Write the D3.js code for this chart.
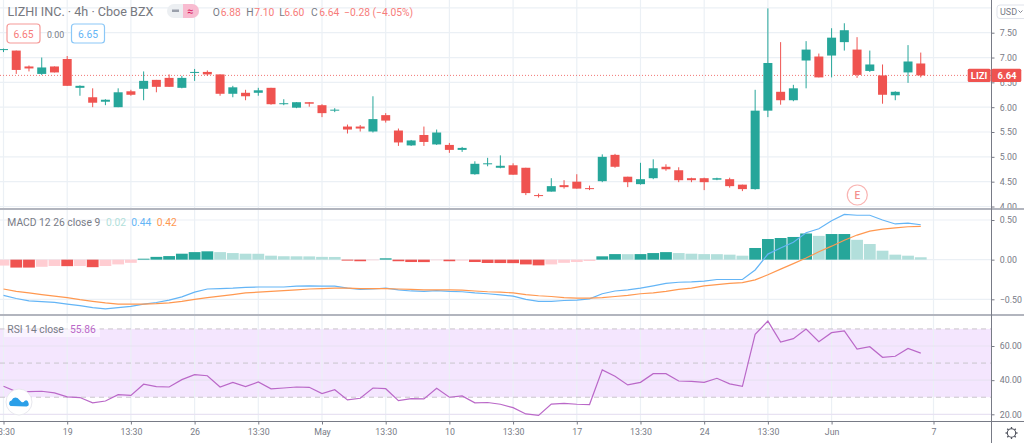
<!DOCTYPE html>
<html>
<head>
<meta charset="utf-8">
<script src="https://cdn.jsdelivr.net/npm/d3@7"></script>
<style>
  html, body { margin: 0; padding: 0; background: #fff; overflow: hidden; }
  text { font-family: Roboto, "Open Sans", sans-serif; }
  .axis path { display: none; }
  .axis line { stroke: #787b86; }
  .axis text { fill: #787b86; font-size: 8.8px; font-family: Roboto, sans-serif; }
</style>
</head>
<body>
<div id="chart"></div>
<script>
// one entry per 4h bar, index is the bar number
const opens = [7.16,7.14,6.82,6.67,6.82,6.97,6.39,6.20,6.11,6.00,6.32,6.37,6.55,6.59,6.39,6.69,6.71,6.66,6.27,6.29,6.29,6.39,6.06,5.99,6.10,6.04,5.93,
  5.61,5.61,5.51,5.84,5.53,5.23,5.44,5.25,5.24,5.14,4.65,4.85,4.78,4.83,4.78,4.23,4.30,4.43,4.50,4.37,4.51,5.04,4.60,4.45,4.57,4.80,4.73,
  4.57,4.57,4.54,4.55,4.44,4.35,5.93,6.31,6.14,6.94,7.02,7.04,7.31,7.16,6.73,6.64,6.24,6.70,6.88];
const highs = [7.18,7.14,6.84,7.00,6.82,7.03,6.44,6.38,6.16,6.38,6.35,6.72,6.55,6.66,6.63,6.77,6.74,6.66,6.43,6.35,6.39,6.39,6.16,6.10,6.10,6.06,5.98,
  5.65,5.64,6.22,5.88,5.57,5.34,5.61,5.55,5.28,5.20,4.91,4.98,5.03,4.87,4.78,4.26,4.57,4.53,4.65,4.42,5.05,5.06,4.60,4.88,4.95,4.85,4.79,
  4.58,4.58,4.58,4.58,4.44,6.35,7.99,7.31,6.45,7.33,7.08,7.59,7.69,7.41,7.14,6.86,6.32,7.25,7.10];
const lows = [7.11,6.67,6.72,6.65,6.70,6.43,6.23,6.00,6.04,6.00,6.23,6.14,6.30,6.41,6.38,6.53,6.63,6.23,6.20,6.14,6.23,6.05,6.04,5.98,6.01,5.80,5.90,
  5.47,5.51,5.49,5.69,5.22,5.22,5.22,5.24,5.08,5.10,4.64,4.81,4.77,4.64,4.23,4.18,4.30,4.36,4.36,4.33,4.49,4.78,4.39,4.44,4.55,4.72,4.49,
  4.49,4.33,4.53,4.38,4.31,4.34,5.80,6.05,6.12,6.38,6.60,6.60,7.14,6.59,6.71,6.07,6.14,6.49,6.60];
const closes = [7.17,6.75,6.78,6.80,6.70,6.43,6.43,6.09,6.15,6.30,6.25,6.53,6.41,6.41,6.59,6.71,6.66,6.27,6.40,6.22,6.34,6.06,6.08,6.10,6.07,5.88,5.95,
  5.55,5.57,5.76,5.73,5.29,5.33,5.30,5.49,5.14,5.18,4.86,4.87,4.82,4.64,4.27,4.21,4.41,4.39,4.36,4.35,5.00,4.80,4.49,4.55,4.77,4.75,4.53,
  4.53,4.49,4.57,4.41,4.35,5.93,6.89,6.14,6.38,7.16,6.60,7.40,7.55,6.65,6.86,6.25,6.31,6.92,6.64];

const macdHist = [-0.075,-0.10,-0.10,-0.09,-0.08,-0.082,-0.08,-0.095,-0.08,-0.06,-0.04,0.012,0.035,0.045,0.075,0.095,0.105,0.095,0.083,0.075,0.074,0.05,0.043,0.042,0.041,0.035,0.034,
  -0.012,-0.02,-0.008,0.017,-0.02,-0.03,-0.031,-0.008,-0.02,-0.012,-0.03,-0.042,-0.043,-0.044,-0.06,-0.072,-0.06,-0.04,-0.03,-0.017,0.042,0.07,0.069,0.07,0.083,0.095,0.083,
  0.075,0.07,0.069,0.063,0.05,0.147,0.26,0.273,0.286,0.33,0.30,0.323,0.323,0.25,0.197,0.113,0.063,0.05,0.03];
const macdLine = [-0.45,-0.49,-0.52,-0.53,-0.54,-0.56,-0.58,-0.605,-0.62,-0.605,-0.59,-0.56,-0.54,-0.51,-0.47,-0.41,-0.37,-0.365,-0.36,-0.35,-0.345,-0.345,-0.345,-0.335,-0.33,-0.335,-0.335,
  -0.36,-0.375,-0.37,-0.36,-0.38,-0.395,-0.40,-0.39,-0.40,-0.405,-0.42,-0.43,-0.445,-0.46,-0.50,-0.525,-0.525,-0.515,-0.51,-0.495,-0.43,-0.395,-0.38,-0.36,-0.33,-0.30,-0.285,
  -0.28,-0.27,-0.25,-0.25,-0.25,-0.13,0.07,0.147,0.22,0.34,0.39,0.49,0.57,0.56,0.56,0.50,0.45,0.46,0.44];
const signalLine = [-0.37,-0.40,-0.42,-0.44,-0.46,-0.48,-0.505,-0.525,-0.545,-0.56,-0.56,-0.56,-0.555,-0.545,-0.525,-0.50,-0.48,-0.46,-0.44,-0.42,-0.41,-0.40,-0.39,-0.38,-0.37,-0.365,-0.36,
  -0.36,-0.365,-0.365,-0.365,-0.37,-0.375,-0.38,-0.38,-0.38,-0.385,-0.395,-0.405,-0.41,-0.42,-0.44,-0.455,-0.465,-0.48,-0.485,-0.485,-0.48,-0.465,-0.45,-0.43,-0.42,-0.40,-0.375,
  -0.36,-0.33,-0.315,-0.30,-0.29,-0.255,-0.19,-0.12,-0.05,0.02,0.10,0.17,0.245,0.31,0.36,0.385,0.40,0.415,0.42];
const rsiLine = [36.4,33.3,33.3,33.5,32.5,30.2,29.8,26.7,27.8,31.5,31.1,37.6,36.2,36,40.3,43.2,42.6,36,38.7,36.2,38.9,34.9,35.4,36,35.8,32.1,34.4,
  28.4,29.4,35.4,35,28,29.2,29,35.2,30,30.8,26.7,26.9,25.9,23.9,20.2,19.4,26,26.4,25.9,25.7,46,42.3,37.2,38.7,43.8,43.8,39.5,
  39.3,38.7,41.1,37.8,36.4,66.8,74.6,62.3,64.3,69.9,62.5,67.8,68.8,58.2,59.6,53.4,54,58.6,55.86];

const timeTickBars = [0,5,10,15,20,25,30,35,40,45,50,55,60,65,73];
const timeTickLabels = ["13:30","19","13:30","26","13:30","May","13:30","10","13:30","17","13:30","24","13:30","Jun","7"];
const priceGrid = [4,4.5,5,5.5,6,6.5,7,7.5,8];
const priceTicks = [4,4.5,5,5.5,6,6.5,7,7.5];
const macdTicks = [-0.5,0,0.5];
const rsiTicks = [20,40,60];
const rsiBands = [70,50,30];
const lastPrice = 6.64;

const width = 1024, height = 443;
const plotRight = 991.5;
const priceBottom = 209, macdBottom = 315, rsiBottom = 421.5;

const colors = {
  up: "#26a69a", down: "#ef5350", upPale: "#b2dfdb", downPale: "#ffcdd2",
  grid: "#ebf0f5", text: "#787b86", blue: "#64b5f6", orange: "#ff9850", purple: "#ba68c8",
  valueRed: "#f77c7a"
};

const bars = d3.range(opens.length);

const x = d3.scaleLinear().domain([0, 73]).range([3.5, 933.5]);
const yPrice = d3.scaleLinear().domain([4, 7.5]).range([206.5, 32.7]);
const yMacd = d3.scaleLinear().domain([-0.5, 0.5]).range([299.3, 220]);
const yRsi = d3.scaleLinear().domain([20, 60]).range([414.3, 346]);

const svg = d3.select("#chart").append("svg")
  .attr("width", width)
  .attr("height", height)
  .attr("viewBox", [0, 0, width, height]);

// clip regions so that the panes cut off their own content
const defs = svg.append("defs");
function addClip(id, x0, y0, w, h) {
  defs.append("clipPath").attr("id", id).append("rect")
    .attr("x", x0).attr("y", y0).attr("width", w).attr("height", h);
}
addClip("clip-price-axis", plotRight, 0, width - plotRight, priceBottom - 1);
addClip("clip-x-axis", 0, rsiBottom, plotRight, height - rsiBottom);

// rsi band goes under the grid
svg.append("rect")
  .attr("x", 0).attr("width", plotRight)
  .attr("y", yRsi(70)).attr("height", yRsi(30) - yRsi(70))
  .attr("fill", "#f4e6fe");

// grid
const grid = svg.append("g").attr("stroke", colors.grid).attr("stroke-width", 1.2).attr("fill", "none");
grid.selectAll(".vline").data(timeTickBars).join("line")
  .attr("x1", (d) => x(d)).attr("x2", (d) => x(d))
  .attr("y1", 0).attr("y2", rsiBottom);
function hGrid(values, scale, stroke) {
  grid.append("g").selectAll("line").data(values).join("line")
    .attr("x1", 0).attr("x2", plotRight)
    .attr("y1", (d) => scale(d)).attr("y2", (d) => scale(d))
    .attr("stroke", stroke || colors.grid);
}
hGrid(priceGrid, yPrice);
hGrid(macdTicks, yMacd);
hGrid(rsiTicks, yRsi, "#e8e2f2");

// dashed rsi levels
svg.append("g").selectAll("line").data(rsiBands).join("line")
  .attr("x1", 0).attr("x2", plotRight)
  .attr("y1", (d) => yRsi(d)).attr("y2", (d) => yRsi(d))
  .attr("stroke", "#c9c5cc")
  .attr("stroke-dasharray", "5 4");

// last price line
svg.append("line")
  .attr("x1", 0).attr("x2", plotRight)
  .attr("y1", yPrice(lastPrice)).attr("y2", yPrice(lastPrice))
  .attr("stroke", colors.down)
  .attr("stroke-width", 0.8)
  .attr("stroke-dasharray", "1 2");

// candles
const candles = svg.append("g");
candles.selectAll(".wick").data(bars).join("line")
  .attr("class", "wick")
  .attr("x1", (i) => x(i)).attr("x2", (i) => x(i))
  .attr("y1", (i) => yPrice(highs[i]))
  .attr("y2", (i) => yPrice(lows[i]))
  .attr("stroke", (i) => closes[i] >= opens[i] ? colors.up : colors.down);
candles.selectAll(".body").data(bars).join("rect")
  .attr("class", "body")
  .attr("x", (i) => x(i) - 4.5)
  .attr("width", 9)
  .attr("y", (i) => yPrice(Math.max(opens[i], closes[i])))
  .attr("height", (i) => Math.max(1, Math.abs(yPrice(opens[i]) - yPrice(closes[i]))))
  .attr("fill", (i) => closes[i] >= opens[i] ? colors.up : colors.down);

// macd histogram, solid while the bar grows away from zero
function histColor(i) {
  const v = macdHist[i], prev = i > 0 ? macdHist[i - 1] : null;
  if (v >= 0) return prev !== null && v >= prev ? colors.up : colors.upPale;
  return prev !== null && v <= prev ? colors.down : colors.downPale;
}
svg.append("g").selectAll("rect").data(bars).join("rect")
  .attr("x", (i) => x(i) - 5.9)
  .attr("width", 11.8)
  .attr("y", (i) => Math.min(yMacd(0), yMacd(macdHist[i])))
  .attr("height", (i) => Math.abs(yMacd(macdHist[i]) - yMacd(0)))
  .attr("fill", histColor);

// macd and signal lines
const lineOn = (scale, values) => d3.line().x((i) => x(i)).y((i) => scale(values[i]))(bars);
svg.append("path").attr("d", lineOn(yMacd, macdLine))
  .attr("fill", "none").attr("stroke", colors.blue).attr("stroke-width", 1.2);
svg.append("path").attr("d", lineOn(yMacd, signalLine))
  .attr("fill", "none").attr("stroke", colors.orange).attr("stroke-width", 1.2);

// rsi line
svg.append("path").attr("d", lineOn(yRsi, rsiLine))
  .attr("fill", "none").attr("stroke", colors.purple).attr("stroke-width", 1.2);

// pane separators and axis lines
svg.append("g").attr("fill", "#b2b5be").selectAll("rect").data([priceBottom - 1, macdBottom - 1]).join("rect")
  .attr("x", 0).attr("width", width).attr("y", (d) => d).attr("height", 2);
svg.append("line").attr("x1", 0).attr("x2", width)
  .attr("y1", rsiBottom).attr("y2", rsiBottom).attr("stroke", "#787b86");
svg.append("line").attr("x1", plotRight).attr("x2", plotRight)
  .attr("y1", 0).attr("y2", height).attr("stroke", "#787b86");

// axes
const fmt = d3.format(".2f");
svg.append("g").attr("class", "axis")
  .attr("clip-path", "url(#clip-price-axis)")
  .append("g")
  .attr("transform", `translate(${plotRight},0)`)
  .call(d3.axisRight(yPrice).tickValues(priceTicks).tickFormat(fmt).tickSize(3).tickPadding(5.2));
svg.append("g").attr("class", "axis")
  .attr("transform", `translate(${plotRight},0)`)
  .call(d3.axisRight(yMacd).tickValues(macdTicks).tickFormat(fmt).tickSize(3).tickPadding(5.2));
svg.append("g").attr("class", "axis")
  .attr("transform", `translate(${plotRight},0)`)
  .call(d3.axisRight(yRsi).tickValues(rsiTicks).tickFormat(fmt).tickSize(3).tickPadding(5.2));
svg.append("g").attr("class", "axis")
  .attr("clip-path", "url(#clip-x-axis)")
  .append("g")
  .attr("transform", `translate(0,${rsiBottom})`)
  .call(d3.axisBottom(x).tickValues(timeTickBars)
    .tickFormat((d) => timeTickLabels[timeTickBars.indexOf(d)])
    .tickSize(3).tickPadding(4));

// last price tags
const tag = svg.append("g");
tag.append("rect").attr("x", 967.7).attr("y", yPrice(lastPrice) - 6.7).attr("width", 23).attr("height", 13.4).attr("rx", 1.5).attr("fill", colors.down);
tag.append("rect").attr("x", 991.5).attr("y", yPrice(lastPrice) - 6.7).attr("width", 29.8).attr("height", 13.4).attr("rx", 1.5).attr("fill", colors.down);
tag.append("text").attr("x", 979).attr("y", yPrice(lastPrice)).attr("dy", "0.35em")
  .attr("text-anchor", "middle").attr("font-size", 9.5).attr("font-weight", 700).attr("fill", "#fff").text("LIZI");
tag.append("text").attr("x", 1007).attr("y", yPrice(lastPrice)).attr("dy", "0.35em")
  .attr("text-anchor", "middle").attr("font-size", 9.5).attr("font-weight", 700).attr("fill", "#fff").text(fmt(lastPrice));

// currency box
const usd = svg.append("g");
usd.append("rect").attr("x", 997).attr("y", 5).attr("width", 30).attr("height", 13.5).attr("rx", 3)
  .attr("fill", "#fff").attr("stroke", "#e0e3eb");
usd.append("text").attr("x", 1000).attr("y", 14.5).attr("font-size", 9).attr("fill", colors.text).text("USD");
usd.append("path").attr("d", "M1018.5 10.5l2 2l2 -2").attr("fill", "none").attr("stroke", colors.text).attr("stroke-width", 0.9);

// earnings marker
const earn = svg.append("g");
earn.append("circle").attr("cx", 857.3).attr("cy", 195).attr("r", 10).attr("fill", "#fff").attr("stroke", "#f9b4b2").attr("stroke-width", 1.2);
earn.append("text").attr("x", 857.3).attr("y", 195).attr("dy", "0.35em").attr("text-anchor", "middle")
  .attr("font-size", 10).attr("font-weight", 500).attr("fill", "#f4908d").text("E");

// header legend
function label(parent, px, py, str, size, fill, weight) {
  return parent.append("text").attr("x", px).attr("y", py)
    .attr("font-size", size).attr("fill", fill).attr("font-weight", weight || 400).text(str);
}
const head = svg.append("g");
label(head, 7.5, 16, "LIZHI INC. · 4h · Cboe BZX", 12.6, "#77797f");

// compare / hide pill
head.append("rect").attr("x", 167).attr("y", 4).attr("width", 32).attr("height", 14).attr("rx", 7).attr("fill", "#eceff2");
head.append("path").attr("d", "M183 4h9a7 7 0 0 1 0 14h-9z").attr("fill", "#f8bbd0");
head.append("rect").attr("x", 172).attr("y", 9.5).attr("width", 7).attr("height", 2.5).attr("fill", "#9aa0ab");
label(head, 187, 15, "≈", 11, "#d81b60");

const ohlcKeys = ["O", "H", "L", "C"];
const ohlcValues = ["6.88", "7.10", "6.60", "6.64"];
const ohlcKeyX = [212.7, 246.3, 279.3, 311];
const ohlcValueX = [220.7, 254.3, 284.3, 319.3];
ohlcKeys.forEach((k, n) => {
  label(head, ohlcKeyX[n], 16, k, 10.3, colors.text);
  label(head, ohlcValueX[n], 16, ohlcValues[n], 10.3, colors.valueRed);
});
label(head, 344, 16, "−0.28 (−4.05%)", 10.3, colors.valueRed);

// bid ask boxes
head.append("rect").attr("x", 7).attr("y", 24).attr("width", 33).attr("height", 19).attr("rx", 3).attr("fill", "#fff").attr("stroke", "#f59a98").attr("stroke-width", 1.2);
label(head, 23.5, 37.5, "6.65", 10.3, colors.valueRed).attr("text-anchor", "middle");
label(head, 55.5, 37.5, "0.00", 8.8, colors.text).attr("text-anchor", "middle");
head.append("rect").attr("x", 71.5).attr("y", 24).attr("width", 33).attr("height", 19).attr("rx", 3).attr("fill", "#fff").attr("stroke", "#8cc8f7").attr("stroke-width", 1.2);
label(head, 88, 37.5, "6.65", 10.3, colors.blue).attr("text-anchor", "middle");

// macd legend
const macdLegend = svg.append("g");
label(macdLegend, 7.3, 226, "MACD 12 26 close 9", 10.3, colors.text);
label(macdLegend, 106, 226, "0.02", 10.3, "#b2dfdb");
label(macdLegend, 131.3, 226, "0.44", 10.3, colors.blue);
label(macdLegend, 156.7, 226, "0.42", 10.3, colors.orange);

// rsi legend
const rsiLegend = svg.append("g");
rsiLegend.append("rect").attr("x", 4).attr("y", 323).attr("width", 96).attr("height", 14).attr("fill", "#fff").attr("opacity", 0.5);
label(rsiLegend, 7.3, 333, "RSI 14 close", 10.3, colors.text);
label(rsiLegend, 70, 333, "55.86", 10.3, colors.purple);

// logo
const logo = svg.append("g");
logo.append("circle").attr("cx", 19).attr("cy", 402).attr("r", 13).attr("fill", "#fff").attr("stroke", "#e8e8ee");
logo.append("path").attr("d", "M10.5 406a3 3 0 0 1 1 -5.5q2 -4.5 6 -2.5l4 4q2 1 3 -1q3 -2 4 2q1 3 -2 3.5z")
  .attr("fill", "#2b9fe8");

// settings gear
const gear = svg.append("g").attr("transform", "translate(1011.5,433)").attr("fill", "none").attr("stroke", "#50535e");
gear.append("circle").attr("r", 4.2).attr("stroke-width", 1.1);
gear.selectAll("line").data(d3.range(8)).join("line")
  .attr("y1", -4.2).attr("y2", -6)
  .attr("stroke-width", 1.3)
  .attr("transform", (d) => `rotate(${d * 45})`);
</script>
</body>
</html>
